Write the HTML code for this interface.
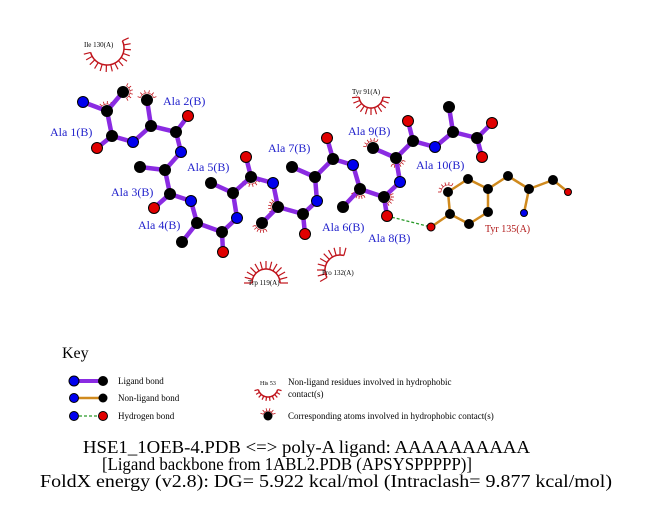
<!DOCTYPE html>
<html><head><meta charset="utf-8"><style>
html,body{margin:0;padding:0;background:#fff;}
svg{display:block;}
text{font-family:"Liberation Serif",serif;}
</style></head><body>
<svg id="s" width="651" height="511" viewBox="0 0 651 511" xmlns="http://www.w3.org/2000/svg">
<g id="hyd" stroke="#c0141c" fill="none" stroke-width="1.3"></g>
<g id="bonds"></g>
<line x1="387" y1="216" x2="431" y2="227" stroke="#2a9a2a" stroke-width="1.3" stroke-dasharray="3,2"/>
<g id="atoms" stroke="#000" stroke-width="1"></g>
<g font-size="12" fill="#2222cc">
<text x="50" y="136">Ala 1(B)</text>
<text x="163" y="105">Ala 2(B)</text>
<text x="111" y="196">Ala 3(B)</text>
<text x="138" y="229">Ala 4(B)</text>
<text x="187" y="171">Ala 5(B)</text>
<text x="322" y="231">Ala 6(B)</text>
<text x="268" y="152">Ala 7(B)</text>
<text x="368" y="242">Ala 8(B)</text>
<text x="348" y="135">Ala 9(B)</text>
<text x="416" y="169">Ala 10(B)</text>
</g>
<text x="485" y="232" font-size="10" fill="#b01818">Tyr 135(A)</text>
<g font-size="7" fill="#000">
<text x="84" y="47">Ile 130(A)</text>
<text x="352" y="94">Tyr 91(A)</text>
<text x="248" y="285">Trp 119(A)</text>
<text x="322" y="275">Pro 132(A)</text>
</g>
<text x="62" y="358" font-size="16">Key</text>
<line x1="74" y1="381" x2="103" y2="381" stroke="#8a2be2" stroke-width="4"/>
<circle cx="74" cy="381" r="5" fill="#0000ee" stroke="#000"/><circle cx="103" cy="381" r="5" fill="#000"/>
<line x1="74" y1="398" x2="103" y2="398" stroke="#d08a1e" stroke-width="2.5"/>
<circle cx="74" cy="398" r="4.5" fill="#0000ee" stroke="#000"/><circle cx="103" cy="398" r="4.5" fill="#000"/>
<line x1="74" y1="416" x2="103" y2="416" stroke="#2a9a2a" stroke-width="1.2" stroke-dasharray="3,2"/>
<circle cx="74" cy="416" r="4.5" fill="#0000ee" stroke="#000"/><circle cx="103" cy="416" r="4.5" fill="#e00000" stroke="#000"/>
<g font-size="9" fill="#000">
<text x="118" y="384">Ligand bond</text>
<text x="118" y="401">Non-ligand bond</text>
<text x="118" y="419">Hydrogen bond</text>
<text x="288" y="385">Non-ligand residues involved in hydrophobic</text>
<text x="288" y="397">contact(s)</text>
<text x="288" y="419">Corresponding atoms involved in hydrophobic contact(s)</text>
<text x="260" y="385" font-size="6">His 53</text>
</g>
<circle cx="268" cy="416" r="4.5" fill="#000"/>
<g font-size="18" fill="#000">
<text x="83" y="453" textLength="447" lengthAdjust="spacingAndGlyphs">HSE1_1OEB-4.PDB &lt;=&gt; poly-A ligand: AAAAAAAAAA</text>
<text x="102" y="470" textLength="370" lengthAdjust="spacingAndGlyphs">[Ligand backbone from 1ABL2.PDB (APSYSPPPPP)]</text>
<text x="40" y="487" textLength="572" lengthAdjust="spacingAndGlyphs">FoldX energy (v2.8): DG= 5.922 kcal/mol (Intraclash= 9.877 kcal/mol)</text>
</g>
</svg>
<script>
var NS="http://www.w3.org/2000/svg";
function el(p,t,a){var e=document.createElementNS(NS,t);for(var k in a)e.setAttribute(k,a[k]);p.appendChild(e);return e;}
var A={N1:[83,102,'b'],CA1:[107,111,'k'],CB1:[123,92,'k'],C1:[112,136,'k'],O1:[97,148,'r'],
N2:[133,142,'b'],CA2:[151,126,'k'],CB2:[147,100,'k'],C2:[176,132,'k'],O2:[188,116,'r'],
N3:[181,152,'b'],CA3:[165,170,'k'],CB3:[140,167,'k'],C3:[170,194,'k'],O3:[154,208,'r'],
N4:[191,201,'b'],CA4:[197,223,'k'],CB4:[182,242,'k'],C4:[222,232,'k'],O4:[223,252,'r'],
N5:[237,218,'b'],CA5:[233,193,'k'],CB5:[211,183,'k'],C5:[251,177,'k'],O5:[246,157,'r'],
N6:[273,183,'b'],CA6:[278,207,'k'],CB6:[262,223,'k'],C6:[303,214,'k'],O6:[305,234,'r'],
N7:[317,201,'b'],CA7:[315,177,'k'],CB7:[292,167,'k'],C7:[333,159,'k'],O7:[327,138,'r'],
N8:[353,165,'b'],CA8:[360,189,'k'],CB8:[343,207,'k'],C8:[384,197,'k'],O8:[387,216,'r'],
N9:[400,182,'b'],CA9:[396,158,'k'],CB9:[373,148,'k'],C9:[413,141,'k'],O9:[408,121,'r'],
N10:[435,147,'b'],CA10:[453,132,'k'],CB10:[449,107,'k'],C10:[477,138,'k'],Oa:[492,123,'r'],Ob:[482,157,'r']};
var L=[];for(var i=1;i<=10;i++){L.push(['N'+i,'CA'+i],['CA'+i,'CB'+i],['CA'+i,'C'+i]);if(i<10){L.push(['C'+i,'O'+i],['C'+i,'N'+(i+1)]);}}
L.push(['C10','Oa'],['C10','Ob']);
var T={OH:[431,227,'r',4],CZ:[450,214,'k',4.5],CE1:[469,224,'k',4.5],CD1:[488,212,'k',4.5],CG:[488,189,'k',4.5],CD2:[468,179,'k',4.5],CE2:[448,192,'k',4.5],CB:[508,176,'k',4.5],CA:[529,189,'k',4.5],N:[524,213,'b',3.5],C:[553,180,'k',4.5],O:[568,192,'r',3.5]};
var TL=[['OH','CZ'],['CZ','CE1'],['CE1','CD1'],['CD1','CG'],['CG','CD2'],['CD2','CE2'],['CE2','CZ'],['CG','CB'],['CB','CA'],['CA','N'],['CA','C'],['C','O']];
var B=document.getElementById('bonds'),At=document.getElementById('atoms'),H=document.getElementById('hyd');
var col={b:'#0000ee',k:'#000',r:'#e00000'};
L.forEach(function(p){var a=A[p[0]],b=A[p[1]];el(B,'line',{x1:a[0],y1:a[1],x2:b[0],y2:b[1],stroke:'#8a2be2','stroke-width':4.5});});
TL.forEach(function(p){var a=T[p[0]],b=T[p[1]];el(B,'line',{x1:a[0],y1:a[1],x2:b[0],y2:b[1],stroke:'#d08a1e','stroke-width':2.5});});
for(var k in A){var a=A[k];el(At,'circle',{cx:a[0],cy:a[1],r:5.5,fill:col[a[2]]});}
for(var k in T){var a=T[k];el(At,'circle',{cx:a[0],cy:a[1],r:a[3],fill:col[a[2]]});}
function arc(cx,cy,r,a0,a1,sp,n,w){var d='';for(var i=0;i<=40;i++){var t=(a0+(a1-a0)*i/40)*Math.PI/180;d+=(i?'L':'M')+(cx+r*Math.cos(t)).toFixed(1)+' '+(cy+r*Math.sin(t)).toFixed(1);}
el(H,'path',{d:d,'stroke-width':w||1.5});for(var i=0;i<n;i++){var t=(a0+(a1-a0)*i/(n-1))*Math.PI/180;el(H,'line',{x1:cx+r*Math.cos(t),y1:cy+r*Math.sin(t),x2:cx+(r+sp)*Math.cos(t),y2:cy+(r+sp)*Math.sin(t),'stroke-width':w?0.8:1.2});}}
arc(107,48,17,-25,165,7,14);
arc(371,96,12,5,175,7,11);
arc(266,283,14,180,360,8,13);
arc(340,270,15,150,285,8,10);
arc(268,416,5,200,340,3,6,0.6);
arc(268,387,10,15,165,4,10);
function sm(x,y,a0,a1){arc(x,y,7,a0,a1,3,6,0.6);}
sm(123,92,-60,60);sm(147,100,200,340);sm(107,111,200,320);sm(262,223,60,160);sm(251,177,30,150);sm(278,207,150,250);sm(360,189,60,150);sm(373,148,190,300);sm(396,158,20,120);sm(384,197,-40,60);sm(448,192,180,300);
</script>
</body></html>
